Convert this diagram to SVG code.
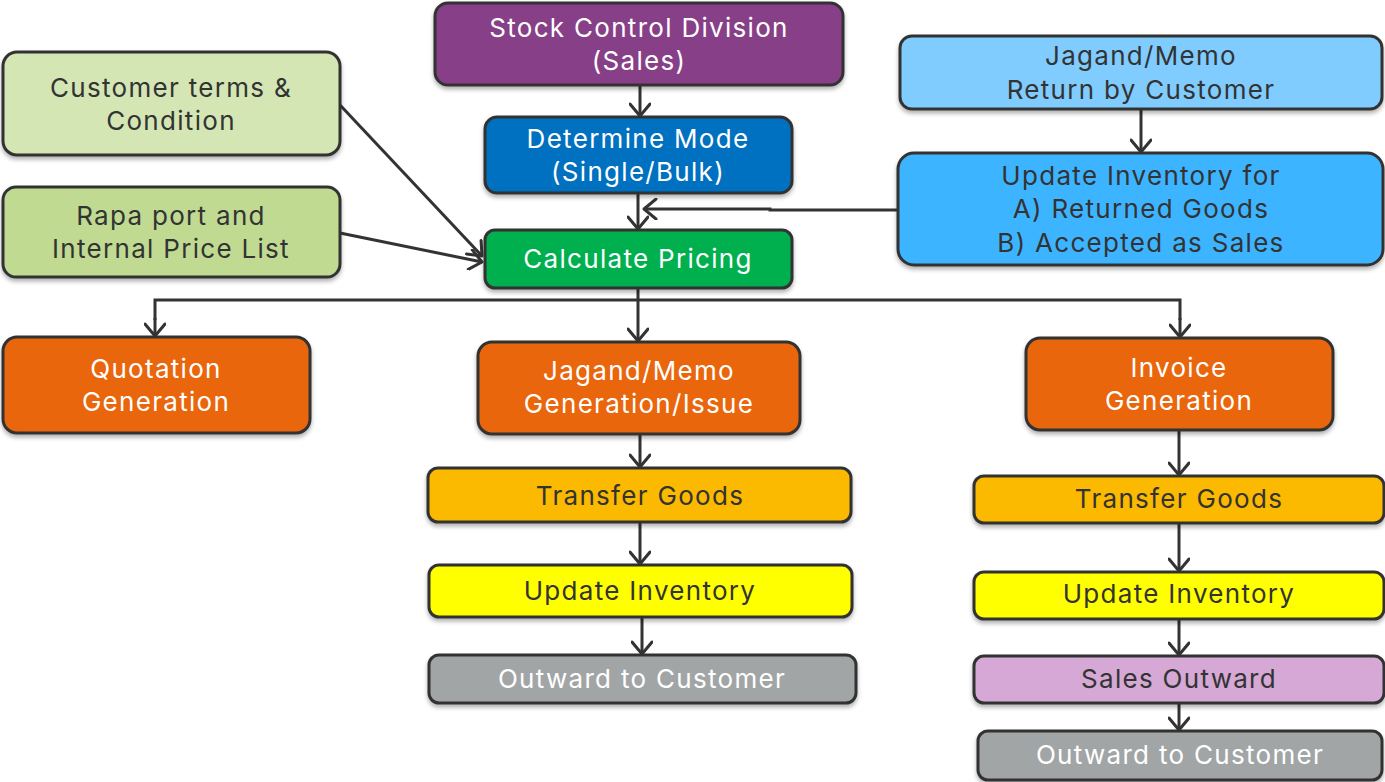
<svg xmlns="http://www.w3.org/2000/svg" width="1385" height="782" viewBox="0 0 1385 782">
<defs>
<filter id="sh" x="-10%" y="-20%" width="120%" height="150%">
<feDropShadow dx="0" dy="3" stdDeviation="2" flood-color="#000" flood-opacity="0.3"/>
</filter>
<marker id="ah2" markerWidth="22" markerHeight="22" viewBox="0 0 22 22" refX="20" refY="11" orient="auto" markerUnits="userSpaceOnUse">
<path d="M8,1 L20,11 L8,21" fill="none" stroke="#333" stroke-width="3" stroke-linecap="round" stroke-linejoin="round"/>
</marker>
</defs>
<style>
.b{stroke:#333;stroke-width:3;filter:url(#sh)}
.t{font-family:Inter,"Open Sans","Liberation Sans",sans-serif;font-size:26px;letter-spacing:1.3px;text-anchor:middle}
.w{fill:#fff}
.d{fill:#333}
.c{fill:none;stroke:#333;stroke-width:3}
</style>
<g id="connectors">
<line class="c" x1="640" y1="85" x2="640" y2="116" marker-end="url(#ah2)"/>
<line class="c" x1="638" y1="193" x2="638" y2="229" marker-end="url(#ah2)"/>
<line class="c" x1="1141" y1="109" x2="1141" y2="152" marker-end="url(#ah2)"/>
<polyline class="c" points="898,210 770,210 770,209 644,209" marker-end="url(#ah2)"/>
<line class="c" x1="340" y1="105" x2="482" y2="256" marker-end="url(#ah2)"/>
<line class="c" x1="340" y1="233" x2="482" y2="262" marker-end="url(#ah2)"/>
<polyline class="c" points="638,288 638,300"/>
<polyline class="c" points="155,320 155,300 1180,300 1180,320"/>
<line class="c" x1="155" y1="318" x2="155" y2="336" marker-end="url(#ah2)"/>
<line class="c" x1="1180" y1="318" x2="1180" y2="337" marker-end="url(#ah2)"/>
<line class="c" x1="638" y1="300" x2="638" y2="341" marker-end="url(#ah2)"/>
<line class="c" x1="640" y1="434" x2="640" y2="467" marker-end="url(#ah2)"/>
<line class="c" x1="640" y1="522" x2="640" y2="564" marker-end="url(#ah2)"/>
<line class="c" x1="642" y1="617" x2="642" y2="654" marker-end="url(#ah2)"/>
<line class="c" x1="1179" y1="430" x2="1179" y2="475" marker-end="url(#ah2)"/>
<line class="c" x1="1179" y1="523" x2="1179" y2="571" marker-end="url(#ah2)"/>
<line class="c" x1="1179" y1="619" x2="1179" y2="655" marker-end="url(#ah2)"/>
<line class="c" x1="1179" y1="703" x2="1179" y2="730" marker-end="url(#ah2)"/>
</g>
<g id="stock">
<rect class="b" x="435" y="3" width="408" height="82" rx="13" fill="#873F87"/>
<text class="t w" x="639" y="37">Stock Control Division</text>
<text class="t w" x="639" y="70">(Sales)</text>
</g>
<g id="determine">
<rect class="b" x="485" y="117" width="307" height="76" rx="12" fill="#0070C0"/>
<text class="t w" x="638" y="148">Determine Mode</text>
<text class="t w" x="638" y="181">(Single/Bulk)</text>
</g>
<g id="calculate">
<rect class="b" x="485" y="230" width="307" height="58" rx="10" fill="#00B050"/>
<text class="t w" x="638" y="268">Calculate Pricing</text>
</g>
<g id="customer">
<rect class="b" x="3" y="52" width="337" height="103" rx="14" fill="#D4E6B4"/>
<text class="t d" x="171" y="97">Customer terms &amp;</text>
<text class="t d" x="171" y="130">Condition</text>
</g>
<g id="rapa">
<rect class="b" x="3" y="187" width="337" height="90" rx="13" fill="#C0DA92"/>
<text class="t d" x="171" y="225">Rapa port and</text>
<text class="t d" x="171" y="258">Internal Price List</text>
</g>
<g id="return">
<rect class="b" x="900" y="36" width="482" height="73" rx="12" fill="#80CCFF"/>
<text class="t d" x="1141" y="65">Jagand/Memo</text>
<text class="t d" x="1141" y="99">Return by Customer</text>
</g>
<g id="updatefor">
<rect class="b" x="898" y="153" width="485" height="112" rx="16" fill="#3DB4FF"/>
<text class="t d" x="1141" y="185">Update Inventory for</text>
<text class="t d" x="1141" y="218">A) Returned Goods</text>
<text class="t d" x="1141" y="252">B) Accepted as Sales</text>
</g>
<g id="quotation">
<rect class="b" x="3" y="337" width="307" height="96" rx="14" fill="#EA6608"/>
<text class="t w" x="156" y="378">Quotation</text>
<text class="t w" x="156" y="411">Generation</text>
</g>
<g id="jagandgen">
<rect class="b" x="478" y="342" width="322" height="92" rx="14" fill="#EA6608"/>
<text class="t w" x="639" y="380">Jagand/Memo</text>
<text class="t w" x="639" y="413">Generation/Issue</text>
</g>
<g id="invoice">
<rect class="b" x="1026" y="338" width="307" height="92" rx="14" fill="#EA6608"/>
<text class="t w" x="1179" y="377">Invoice</text>
<text class="t w" x="1179" y="410">Generation</text>
</g>
<g id="transfer1">
<rect class="b" x="428" y="468" width="423" height="54" rx="10" fill="#FBB900"/>
<text class="t d" x="640" y="505">Transfer Goods</text>
</g>
<g id="update1">
<rect class="b" x="429" y="565" width="423" height="52" rx="10" fill="#FFFF00"/>
<text class="t d" x="640" y="600">Update Inventory</text>
</g>
<g id="outward1">
<rect class="b" x="429" y="655" width="427" height="48" rx="10" fill="#A2A5A6"/>
<text class="t w" x="642" y="688">Outward to Customer</text>
</g>
<g id="transfer2">
<rect class="b" x="974" y="476" width="410" height="47" rx="10" fill="#FBB900"/>
<text class="t d" x="1179" y="508">Transfer Goods</text>
</g>
<g id="update2">
<rect class="b" x="974" y="572" width="410" height="47" rx="10" fill="#FFFF00"/>
<text class="t d" x="1179" y="603">Update Inventory</text>
</g>
<g id="salesout">
<rect class="b" x="974" y="656" width="410" height="47" rx="10" fill="#D5A8D5"/>
<text class="t d" x="1179" y="688">Sales Outward</text>
</g>
<g id="outward2">
<rect class="b" x="978" y="731" width="404" height="49" rx="10" fill="#A2A5A6"/>
<text class="t w" x="1180" y="764">Outward to Customer</text>
</g>
</svg>
